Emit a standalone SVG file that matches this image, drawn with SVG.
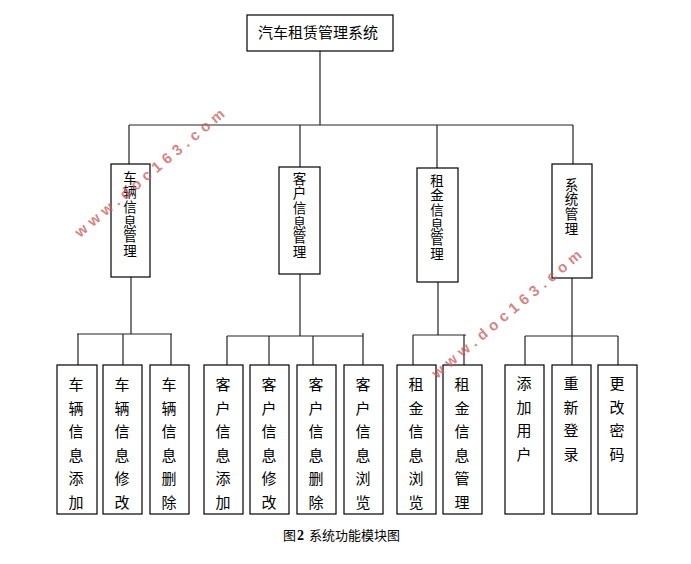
<svg xmlns="http://www.w3.org/2000/svg" width="691" height="564" viewBox="0 0 691 564">
<style>
.box{fill:#fff;stroke:#000;stroke-width:1.2}
.ln{stroke:#222;stroke-width:1.2;fill:none}
.t{font-family:"Noto Sans CJK SC","Noto Sans",sans-serif;font-size:15px;fill:#000;text-anchor:middle}
.v{font-family:"Noto Sans CJK SC","Noto Sans",sans-serif;font-size:13.5px;fill:#000;writing-mode:vertical-rl;text-anchor:start;letter-spacing:1.1px}
.cap{font-family:"Noto Sans CJK SC","Noto Sans",sans-serif;font-size:13px;fill:#000}
.wm{font-family:"Liberation Sans",Arial,sans-serif;font-size:15px;font-weight:bold;letter-spacing:5px;fill:#c85a5a;fill-opacity:0.75}
</style>
<rect width="691" height="564" fill="#fff"/>
<g id="connectors">
<path class="ln" d="M320,51V125M129,125H573M129,125V164M300,125V167M437,125V168M573,125V164"/>
<path class="ln" d="M131,277V334M77,334H172M78,334V365M123,334V365M171,334V365"/>
<path class="ln" d="M300,274V336M227,336H363M227,336V365M269,336V365M313,336V365M363,333V365"/>
<path class="ln" d="M438,282V335M413,335H466M413,335V365M464,335V365"/>
<path class="ln" d="M572,278V336M525,336H618M525,336V365M572,336V365M618,336V365"/>
</g>
<g id="root"><rect class="box" x="247" y="15" width="146" height="36"/><text class="t" x="318" y="38">汽车租赁管理系统</text></g>
<g id="m1"><rect class="box" x="111" y="164" width="39" height="113"/><text class="v" x="130" y="171">车辆信息管理</text></g>
<g id="m2"><rect class="box" x="279" y="167" width="41" height="107"/><text class="v" x="299.5" y="172">客户信息管理</text></g>
<g id="m3"><rect class="box" x="417" y="168" width="41" height="114"/><text class="v" x="437" y="174">租金信息管理</text></g>
<g id="m4"><rect class="box" x="552" y="164" width="40" height="114"/><text class="v" x="571.5" y="178">系统管理</text></g>
<g id="a1"><rect class="box" x="57" y="365" width="40" height="149"/><text class="t"><tspan x="76" y="390">车</tspan><tspan x="76" y="413.5">辆</tspan><tspan x="76" y="437">信</tspan><tspan x="76" y="460.5">息</tspan><tspan x="76" y="484">添</tspan><tspan x="76" y="507.5">加</tspan></text></g>
<g id="a2"><rect class="box" x="103" y="365" width="39" height="149"/><text class="t"><tspan x="122" y="390">车</tspan><tspan x="122" y="413.5">辆</tspan><tspan x="122" y="437">信</tspan><tspan x="122" y="460.5">息</tspan><tspan x="122" y="484">修</tspan><tspan x="122" y="507.5">改</tspan></text></g>
<g id="a3"><rect class="box" x="150" y="365" width="39" height="149"/><text class="t"><tspan x="169" y="390">车</tspan><tspan x="169" y="413.5">辆</tspan><tspan x="169" y="437">信</tspan><tspan x="169" y="460.5">息</tspan><tspan x="169" y="484">删</tspan><tspan x="169" y="507.5">除</tspan></text></g>
<g id="b1"><rect class="box" x="204" y="365" width="39" height="149"/><text class="t"><tspan x="223" y="390">客</tspan><tspan x="223" y="413.5">户</tspan><tspan x="223" y="437">信</tspan><tspan x="223" y="460.5">息</tspan><tspan x="223" y="484">添</tspan><tspan x="223" y="507.5">加</tspan></text></g>
<g id="b2"><rect class="box" x="250" y="365" width="39" height="149"/><text class="t"><tspan x="269" y="390">客</tspan><tspan x="269" y="413.5">户</tspan><tspan x="269" y="437">信</tspan><tspan x="269" y="460.5">息</tspan><tspan x="269" y="484">修</tspan><tspan x="269" y="507.5">改</tspan></text></g>
<g id="b3"><rect class="box" x="297" y="365" width="39" height="149"/><text class="t"><tspan x="316" y="390">客</tspan><tspan x="316" y="413.5">户</tspan><tspan x="316" y="437">信</tspan><tspan x="316" y="460.5">息</tspan><tspan x="316" y="484">删</tspan><tspan x="316" y="507.5">除</tspan></text></g>
<g id="b4"><rect class="box" x="344" y="365" width="39" height="149"/><text class="t"><tspan x="363" y="390">客</tspan><tspan x="363" y="413.5">户</tspan><tspan x="363" y="437">信</tspan><tspan x="363" y="460.5">息</tspan><tspan x="363" y="484">浏</tspan><tspan x="363" y="507.5">览</tspan></text></g>
<g id="c1"><rect class="box" x="397" y="365" width="39" height="149"/><text class="t"><tspan x="416" y="390">租</tspan><tspan x="416" y="413.5">金</tspan><tspan x="416" y="437">信</tspan><tspan x="416" y="460.5">息</tspan><tspan x="416" y="484">浏</tspan><tspan x="416" y="507.5">览</tspan></text></g>
<g id="c2"><rect class="box" x="443" y="365" width="39" height="149"/><text class="t"><tspan x="462" y="390">租</tspan><tspan x="462" y="413.5">金</tspan><tspan x="462" y="437">信</tspan><tspan x="462" y="460.5">息</tspan><tspan x="462" y="484">管</tspan><tspan x="462" y="507.5">理</tspan></text></g>
<g id="d1"><rect class="box" x="505" y="365" width="39" height="149"/><text class="t"><tspan x="524" y="389">添</tspan><tspan x="524" y="412.5">加</tspan><tspan x="524" y="436">用</tspan><tspan x="524" y="459.5">户</tspan></text></g>
<g id="d2"><rect class="box" x="552" y="365" width="39" height="149"/><text class="t"><tspan x="571" y="389">重</tspan><tspan x="571" y="412.5">新</tspan><tspan x="571" y="436">登</tspan><tspan x="571" y="459.5">录</tspan></text></g>
<g id="d3"><rect class="box" x="598" y="365" width="39" height="149"/><text class="t"><tspan x="617" y="389">更</tspan><tspan x="617" y="412.5">改</tspan><tspan x="617" y="436">密</tspan><tspan x="617" y="459.5">码</tspan></text></g>
<text class="cap" x="283" y="540">图<tspan font-family="Liberation Serif,serif" font-weight="bold" font-size="14px" dx="1">2</tspan><tspan dx="5">系统功能模块图</tspan></text>
<text class="wm" transform="translate(80,238) rotate(-40)">www.doc163.com</text>
<text class="wm" transform="translate(437,379) rotate(-40)">www.doc163.com</text>
</svg>
